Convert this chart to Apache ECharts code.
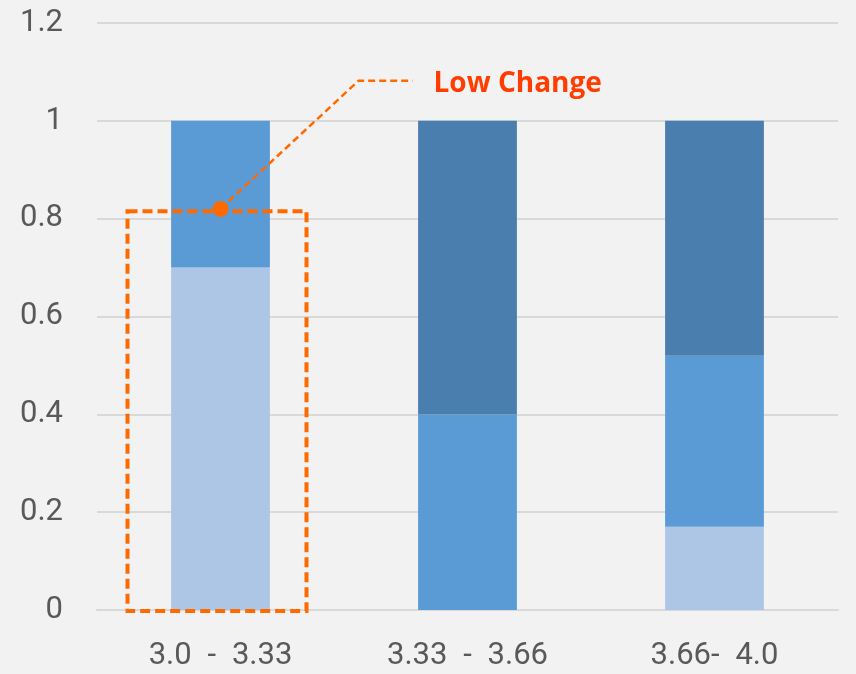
<!DOCTYPE html>
<html>
<head>
<meta charset="utf-8">
<script src="https://cdn.jsdelivr.net/npm/echarts@6/dist/echarts.min.js"></script>
<style>
html,body{margin:0;padding:0;background:#f2f2f2;}
#chart{width:856px;height:674px;}
</style>
</head>
<body>
<div id="chart"></div>
<script>
const categories = ['3.0 - 3.33', '3.33 - 3.66', '3.66- 4.0'];
const lowValues = [0.70, 0, 0.17];
const midValues = [0.30, 0.40, 0.35];
const highValues = [0, 0.60, 0.48];
const annotationText = 'Low Change';

const chart = echarts.init(document.getElementById('chart'));
const font = 'Roboto';
const option = {
  backgroundColor: '#f2f2f2',
  animation: false,
  grid: {left: 97, right: 18, top: 23, bottom: 64},
  xAxis: {
    type: 'category',
    data: categories,
    axisTick: {show: false},
    axisLine: {lineStyle: {color: '#d9d9d9', width: 2}},
    axisLabel: {color: '#595959', fontSize: 31, fontFamily: font, fontWeight: 400, margin: 31,
      formatter: v => v.replace(/ /g, '\u2002')}
  },
  yAxis: {
    type: 'value',
    min: 0, max: 1.2, interval: 0.2,
    axisLabel: {color: '#595959', fontSize: 31, fontFamily: font, fontWeight: 400, margin: 34,
      formatter: v => String(Math.round(v * 10) / 10)},
    splitLine: {lineStyle: {color: '#d9d9d9', width: 2}},
    axisLine: {show: false}, axisTick: {show: false}
  },
  series: [
    {type: 'bar', stack: 's', data: lowValues, barWidth: '40%', itemStyle: {color: '#adc6e5'}},
    {type: 'bar', stack: 's', data: midValues, itemStyle: {color: '#5b9bd5'}},
    {type: 'bar', stack: 's', data: highValues, itemStyle: {color: '#4a7eae'}}
  ]
};
chart.setOption(option);

const p0 = chart.convertToPixel({gridIndex: 0}, [0, 0]);
const pTop = chart.convertToPixel({gridIndex: 0}, [0, 0.815]);
const pDot = chart.convertToPixel({gridIndex: 0}, [0, 0.82]);
const pElbow = chart.convertToPixel({gridIndex: 0}, [0, 1.082]);
const cx = p0[0];
const orange = '#ff6a00';
chart.setOption({
  graphic: [
    {type: 'rect', shape: {x: cx - 93, y: pTop[1], width: 179, height: p0[1] - pTop[1] + 1},
     style: {fill: 'none', stroke: orange, lineWidth: 4, lineDash: [10, 5]}, z: 100},
    {type: 'polyline', shape: {points: [[pDot[0], pDot[1]], [cx + 138, pElbow[1]], [cx + 192, pElbow[1]]]},
     style: {fill: 'none', stroke: orange, lineWidth: 2.5, lineDash: [7, 4]}, z: 100},
    {type: 'circle', shape: {cx: pDot[0], cy: pDot[1], r: 8}, style: {fill: orange}, z: 101},
    {type: 'text', x: cx + 213, y: pElbow[1] + 3,
     style: {text: annotationText, fill: '#ff3d00', font: 'bold 28px "Open Sans"', verticalAlign: 'middle', align: 'left'}, z: 101}
  ]
});
</script>
</body>
</html>
